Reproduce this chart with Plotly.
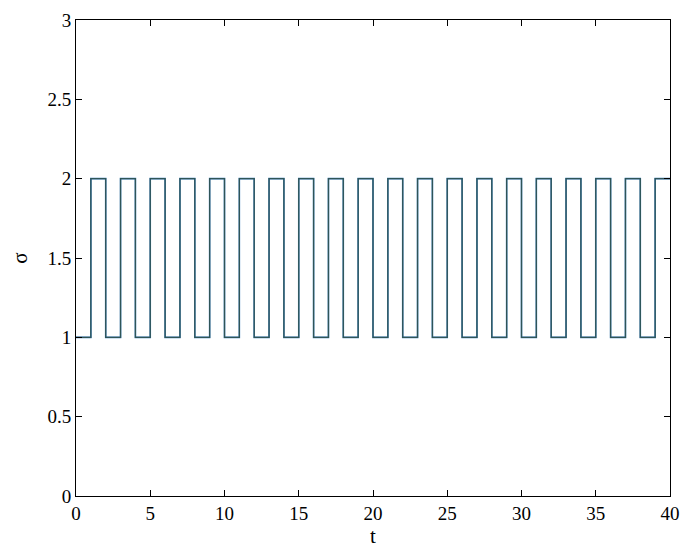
import plotly.graph_objects as go

# switching signal sigma(t): step times and values (held until next time)
t_steps = [0, 1, 2, 3, 4, 5, 6, 7, 8, 9, 10, 11, 12, 13, 14, 15, 16, 17, 18, 19, 20,
           21, 22, 23, 24, 25, 26, 27, 28, 29, 30, 31, 32, 33, 34, 35, 36, 37, 38, 39, 40]
sigma = [1, 2, 1, 2, 1, 2, 1, 2, 1, 2, 1, 2, 1, 2, 1, 2, 1, 2, 1, 2, 1,
         2, 1, 2, 1, 2, 1, 2, 1, 2, 1, 2, 1, 2, 1, 2, 1, 2, 1, 2, 2]

x_ticks = [0, 5, 10, 15, 20, 25, 30, 35, 40]
y_ticks = [0, 0.5, 1, 1.5, 2, 2.5, 3]

fig = go.Figure()
fig.add_trace(go.Scatter(x=t_steps, y=sigma, mode="lines", line_shape="hv",
                         line=dict(color="#3a7fc0", width=1.6), showlegend=False))
fig.add_trace(go.Scatter(x=t_steps, y=sigma, mode="lines", line_shape="hv",
                         line=dict(color="#2f5558", width=1.3), showlegend=False))

axis = dict(showgrid=False, zeroline=False, showline=True, linecolor="black",
            linewidth=1, mirror="ticks", ticks="inside", ticklen=6, automargin=False,
            tickcolor="black", tickfont=dict(size=19, color="black"))
fig.update_xaxes(range=[0, 40], tickvals=x_ticks,
                 title=dict(text="t", font=dict(size=21), standoff=0), **axis)
fig.update_yaxes(range=[0, 3], tickvals=y_ticks, ticktext=[str(v) for v in y_ticks],
                 title=dict(text="σ", font=dict(size=21), standoff=22), **axis)

# sized so the page (with its 8px body margin) fits the window without scrollbars
fig.update_layout(width=684, height=543, plot_bgcolor="white", paper_bgcolor="white",
                  font=dict(family="Liberation Serif", color="black"),
                  margin=dict(l=68, r=22, t=12, b=55))
fig.write_html("out.html")
